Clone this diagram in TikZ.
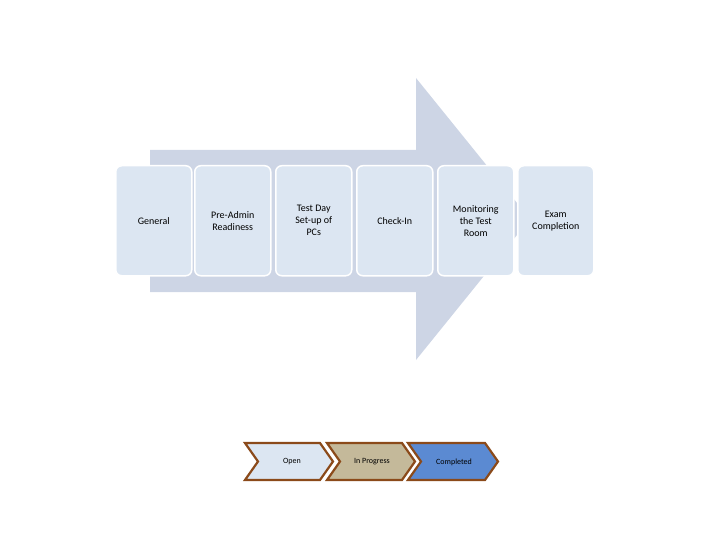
\documentclass[tikz,border=0pt]{standalone}
\usepackage{fontspec}
\setmainfont{Carlito}
\begin{document}
\begin{tikzpicture}[x=1pt,y=-1pt,
  stage/.style={draw=white,line width=1.5pt,fill=boxfill,rounded corners=6pt,minimum width=76pt,minimum height=110pt,align=center,font=\fontsize{10}{12}\selectfont,anchor=north west,inner sep=1pt},
  chev/.style={draw=chevborder,line width=2.2pt,line join=miter}]
\definecolor{boxfill}{HTML}{DCE6F2}
\definecolor{arrowfill}{HTML}{CDD5E5}
\definecolor{chevborder}{HTML}{8B4A1A}
\definecolor{tan}{HTML}{C4B99A}
\definecolor{blue}{HTML}{5B8AD2}
\useasboundingbox (0,0) rectangle (720,540);
\fill[arrowfill] (150,150) -- (416,150) -- (416,78) -- (530,219) -- (416,360) -- (416,292) -- (150,292) -- cycle;
\node[stage] (a) at (115,165) {General};
\node[stage] (b) at (194,165) {Pre-Admin\\Readiness};
\node[stage] (c) at (275,165) {Test Day\\Set-up of\\PCs};
\node[stage] (d) at (356,165) {Check-In};
\node[stage] (e) at (437,165) {Monitoring\\the Test\\Room};
\node[stage] (f) at (517,165) {Exam\\Completion};
\filldraw[chev,fill=boxfill] (245,443) -- (320,443) -- (333,461.5) -- (320,480) -- (245,480) -- (258,461.5) -- cycle;
\filldraw[chev,fill=tan] (327,443) -- (402,443) -- (415,461.5) -- (402,480) -- (327,480) -- (340,461.5) -- cycle;
\filldraw[chev,fill=blue] (408,443) -- (485,443) -- (498,461.5) -- (485,480) -- (408,480) -- (421,461.5) -- cycle;
\node[font=\fontsize{8}{9}\selectfont] (o) at (292,462) {Open};
\node[font=\fontsize{8}{9}\selectfont] (p) at (372,462) {In Progress};
\node[font=\fontsize{8}{9}\selectfont] (q) at (454,462) {Completed};
\end{tikzpicture}
\end{document}
